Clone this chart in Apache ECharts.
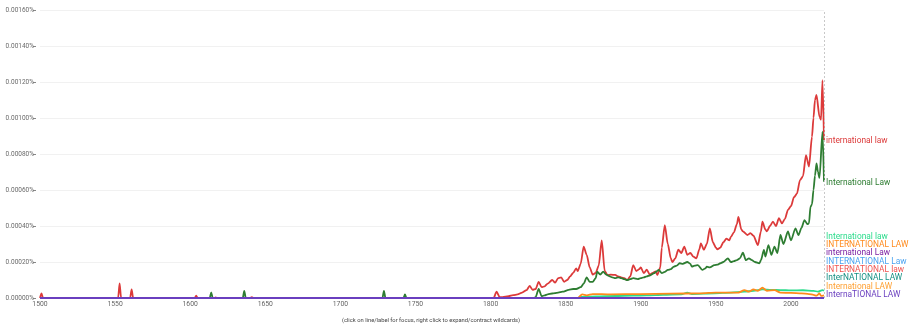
<!DOCTYPE html>
<html><head><meta charset="utf-8">
<script src="https://cdn.jsdelivr.net/npm/echarts@6/dist/echarts.min.js"></script>
<style>html,body{margin:0;padding:0;background:#fff}#c{width:910px;height:328px}</style>
</head><body><div id="c"></div>
<script>
// values in units of 0.00001 %
const xTickStart = 1500, xTickEnd = 2022, xTickStep = 50;
const yTickMax = 160, yTickStep = 20;

const names = ["international law","International Law","International law","INTERNATIONAL LAW","international Law","INTERNATIONAL Law","INTERNATIONAL law","InterNATIONAL LAW","International LAW","InternaTIONAL LAW"];
const colors = ["#dc3a3a","#2e7d32","#2bdc8c","#ff8a1c","#7b1fa2","#4aa3f0","#ef5350","#138f83","#ffa033","#6a3fbf"];

const intlLawLower = [[1500,0],[1501,2.6],[1502,0],[1552,0],[1553,8.1],[1554,0],[1560,0],[1561,4.8],[1562,0],[1603,0],[1604,1.3],[1605,0],[1616,0],[1617,0.4],[1618,0],[1640,0],[1641,0.5],[1642,0],[1802,0],[1804,3.5],[1806,0.5],[1808,0.5],[1812,1],[1815,1.6],[1818,2],[1821,3],[1824,4.4],[1826,6.7],[1828,4.5],[1830,5],[1832,9],[1834,6],[1836,6.5],[1838,8],[1841,10],[1843,8.5],[1845,11],[1847,11.5],[1849,9],[1851,10],[1853,12],[1855,14],[1857,16.5],[1858,15],[1860,19],[1862,28.5],[1864,24],[1866,17],[1868,13],[1870,14],[1872,18],[1874,32],[1876,15],[1878,12.6],[1880,13],[1883,12.8],[1885,12],[1887,11.5],[1889,11],[1891,10],[1893,12],[1895,18.3],[1897,15],[1899,16],[1900,17],[1902,13.8],[1904,15.7],[1906,13],[1908,14],[1910,14.8],[1911,12.8],[1913,17],[1914,28],[1916,40.5],[1918,30],[1920,22],[1921,20],[1923,22],[1925,26.8],[1927,25],[1929,28.5],[1931,24],[1933,25],[1935,23],[1937,22],[1939,27],[1940,30.4],[1942,26.8],[1944,30],[1946,38.7],[1948,31],[1950,28],[1951,27],[1953,28],[1955,31],[1957,33],[1959,32],[1960,34],[1962,36.5],[1964,41],[1965,45],[1967,38],[1968,37],[1971,35],[1973,36],[1975,34.6],[1978,29.4],[1980,37],[1981,42.4],[1983,38],[1984,37],[1986,40],[1988,42.4],[1990,40],[1992,44.3],[1994,41.5],[1996,44],[1998,49],[2000,51],[2002,56],[2004,58],[2006,65.5],[2008,67.6],[2010,79.4],[2012,73],[2014,89.6],[2015,100],[2016,110],[2017,112.8],[2019,100.7],[2020,99],[2021,121],[2022,87.8]];

const intlLawCap = [[1500,0],[1613,0],[1614,3.1],[1615,0],[1635,0],[1636,4],[1637,0],[1728,0],[1729,3.9],[1730,0],[1742,0],[1743,2],[1744,0],[1829,0],[1830,0.5],[1832,5],[1834,1],[1836,1.5],[1838,2],[1841,2.5],[1845,3],[1848,3.5],[1852,4.5],[1855,5],[1857,5],[1860,6],[1862,8],[1864,11.5],[1866,9],[1868,9],[1870,11],[1871,14.6],[1873,13],[1875,14.6],[1877,13],[1879,12.2],[1881,11.5],[1883,11],[1885,11.5],[1887,11],[1889,10.5],[1891,10],[1893,10.5],[1895,11],[1898,10.5],[1900,11],[1902,11.5],[1904,12],[1906,12.5],[1909,13.8],[1910,14.5],[1912,15.6],[1914,13.8],[1916,14.5],[1918,15.6],[1920,16],[1922,17.4],[1924,18],[1926,19.3],[1928,19],[1931,20],[1933,19],[1934,17.4],[1936,18],[1938,18.3],[1941,15.6],[1943,16.5],[1944,17.4],[1946,17],[1949,18.3],[1951,18.5],[1953,19.3],[1955,20],[1958,22],[1960,20],[1962,20.5],[1964,21],[1966,22],[1968,25.2],[1970,21],[1972,22],[1974,21],[1976,20],[1979,19.3],[1980,21],[1982,26.7],[1983,23],[1985,29.4],[1987,24],[1989,28.5],[1991,25],[1993,35],[1995,30],[1998,37],[2000,32],[2003,38.7],[2005,35],[2007,39],[2009,43.3],[2011,41],[2012,41.5],[2013,50.7],[2014,52],[2015,60],[2016,68],[2017,74.8],[2018,70],[2019,66.7],[2021,92.4],[2022,64.6]];

const intlLawFirstCap = [[1500,0],[1858,0],[1860,0.6],[1870,0.9],[1883,1.1],[1895,1.3],[1904,1.5],[1915,1.8],[1927,2],[1931,3],[1934,2.2],[1949,2.6],[1960,3],[1969,3.5],[1975,4],[1981,4.8],[1987,4.5],[1993,4.4],[2000,4.2],[2008,4.3],[2015,4],[2018,3.5],[2021,4.4],[2022,4]];

const intlLawAllCaps = [[1500,0],[1858,0],[1861,2],[1864,1.5],[1868,2.2],[1880,2],[1900,2.2],[1920,2.4],[1940,2.6],[1950,3],[1965,3],[1969,4.4],[1972,3.5],[1975,4.8],[1978,4],[1981,5.7],[1984,4],[1989,4.4],[1993,3],[2000,2.8],[2007,2.6],[2012,2.2],[2015,1.7],[2017,1.3],[2019,2.5],[2020,1.2],[2022,1.5]];

const intlLawLowerCapLaw = [[1500,0],[2022,0]];
const intlCapsLawCap = [[1500,0],[2022,0]];
const intlCapsLawLower = [[1500,0],[2022,0]];
const interNationalCaps = [[1500,0],[2022,0]];
const intlLawCapsLaw = [[1500,0],[2022,0]];
const internaTionalCaps = [[1500,0],[2022,0]];

const allData = [intlLawLower,intlLawCap,intlLawFirstCap,intlLawAllCaps,intlLawLowerCapLaw,intlCapsLawCap,intlCapsLawLower,interNationalCaps,intlLawCapsLaw,internaTionalCaps];

const FONT = 'Roboto, "Noto Sans", sans-serif';

const series = allData.map((d, i) => ({
  name: names[i],
  type: 'line',
  data: d,
  showSymbol: false,
  symbol: 'none',
  smooth: 0.25,
  smoothMonotone: 'x',
  silent: true,
  lineStyle: { color: colors[i], width: i === allData.length - 1 ? 2 : 1.8 },
  itemStyle: { color: colors[i] },
  markLine: i === 0 ? {
    silent: true, symbol: 'none', label: { show: false },
    lineStyle: { color: '#c8c8c8', type: [2, 2], width: 1 },
    data: [{ xAxis: xTickEnd }]
  } : undefined
}));

const chart = echarts.init(document.getElementById('c'), null, { renderer: 'canvas' });
chart.setOption({
  animation: false,
  backgroundColor: '#ffffff',
  grid: { left: 40, right: 86, top: 10, bottom: 30 },
  xAxis: {
    type: 'value', min: xTickStart, max: xTickEnd, interval: xTickStep,
    axisLine: { show: false }, axisTick: { show: false }, splitLine: { show: false },
    axisLabel: { showMaxLabel: false, color: '#666', fontSize: 6.8, fontFamily: FONT, margin: 3, formatter: v => String(v) }
  },
  yAxis: {
    type: 'value', min: 0, max: yTickMax, interval: yTickStep, offset: 4,
    axisLine: { show: false },
    axisTick: { show: true, length: 3, lineStyle: { color: '#888' } },
    splitLine: { show: true, lineStyle: { color: '#f1f1f1', width: 1 } },
    axisLabel: { color: '#6a6a6a', fontSize: 6.5, fontFamily: FONT, margin: 2, formatter: v => (v / 100000).toFixed(5) + '%' }
  },
  series: series
});

const graphics = [];
let prev = Infinity;
const gridBottom = chart.convertToPixel({ gridIndex: 0 }, [xTickEnd, 0]);
const labelX = gridBottom[0] + 2;
const ys = [];
for (let i = allData.length - 1; i >= 0; i--) {
  const last = allData[i][allData[i].length - 1];
  const py = chart.convertToPixel({ gridIndex: 0 }, last)[1];
  const y = Math.min(py + 1, prev - 8.33, gridBottom[1] - 3);
  prev = y;
  ys[i] = y;
}
for (let i = 0; i < allData.length; i++) {
  graphics.push({
    type: 'text', x: labelX, y: ys[i], silent: true,
    style: { text: names[i], fill: colors[i], font: '8.4px ' + FONT, textAlign: 'left', textVerticalAlign: 'middle' }
  });
}
graphics.push({
  type: 'text', x: 431, y: 321, silent: true,
  style: { text: '(click on line/label for focus, right click to expand/contract wildcards)', fill: '#444', font: '5.8px ' + FONT, textAlign: 'center', textVerticalAlign: 'middle' }
});
chart.setOption({ graphic: graphics });
</script>
</body></html>
